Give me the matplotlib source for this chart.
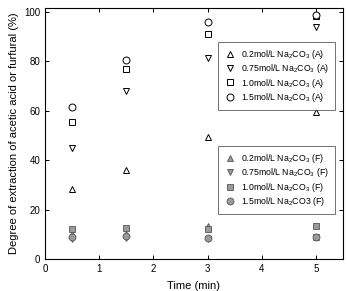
import matplotlib
matplotlib.use("Agg")
import matplotlib.pyplot as plt

# time points (min)
time = [0.5, 1.5, 3, 5]

# acetic acid extraction (A)
a_02 = [28.5, 36, 49.5, 59.5]
a_075 = [45, 68, 81.5, 94]
a_10 = [55.5, 77, 91, 98.5]
a_15 = [61.5, 80.5, 96, 99]

# furfural extraction (F)
f_02 = [10, 10, 13.5, 9]
f_075 = [8, 8.5, 8, 9]
f_10 = [12, 12.5, 12, 13.5]
f_15 = [9, 9.5, 8.5, 9]

labels_a = ["0.2mol/L Na$_2$CO$_3$ (A)", "0.75mol/L Na$_2$CO$_3$ (A)",
            "1.0mol/L Na$_2$CO$_3$ (A)", "1.5mol/L Na$_2$CO$_3$ (A)"]
labels_f = ["0.2mol/L Na$_2$CO$_3$ (F)", "0.75mol/L Na$_2$CO$_3$ (F)",
            "1.0mol/L Na$_2$CO$_3$ (F)", "1.5mol/L Na$_2$CO3 (F)"]
markers = ["^", "v", "s", "o"]

plt.rcParams['font.family'] = ['Liberation Sans', 'DejaVu Sans']
plt.rcParams['mathtext.fontset'] = 'custom'
plt.rcParams['mathtext.rm'] = 'Liberation Sans'

fig = plt.figure(figsize=(3.47, 2.91), dpi=100)
ax = fig.add_axes([0.130, 0.110, 0.858, 0.863])

ha = []
for y, m, lab in zip([a_02, a_075, a_10, a_15], markers, labels_a):
    h, = ax.plot(time, y, linestyle="none", marker=m, markersize=5,
                 markerfacecolor="white", markeredgecolor="black",
                 markeredgewidth=0.7, label=lab)
    ha.append(h)

hf = []
for y, m, lab in zip([f_02, f_075, f_10, f_15], markers, labels_f):
    h, = ax.plot(time, y, linestyle="none", marker=m, markersize=5,
                 markerfacecolor="#9a9a9a", markeredgecolor="#555555",
                 markeredgewidth=0.6, label=lab)
    hf.append(h)

ax.set_xlim(0, 5.5)
ax.set_ylim(0, 101.7)
ax.set_xticks([0, 1, 2, 3, 4, 5])
ax.set_yticks([0, 20, 40, 60, 80, 100])
ax.tick_params(direction="in", labelsize=7, length=3, width=0.7,
               top=True, right=True)
for s in ax.spines.values():
    s.set_linewidth(0.8)

ax.set_xlabel("Time (min)", fontsize=8, labelpad=5)
ax.set_ylabel("Degree of extraction of acetic acid or furfural (%)", fontsize=8)

leg_kw = dict(loc="upper left", fontsize=6.3, frameon=True, fancybox=False,
              edgecolor="#333333", handletextpad=0.5, borderpad=0.7,
              labelspacing=0.15, handlelength=1.4, borderaxespad=0)
leg1 = ax.legend(handles=ha, bbox_to_anchor=(0.581, 0.865), **leg_kw)
leg1.get_frame().set_linewidth(0.6)
ax.add_artist(leg1)
leg2 = ax.legend(handles=hf, bbox_to_anchor=(0.581, 0.45), **leg_kw)
leg2.get_frame().set_linewidth(0.6)

fig.savefig("out.png", dpi=100)
